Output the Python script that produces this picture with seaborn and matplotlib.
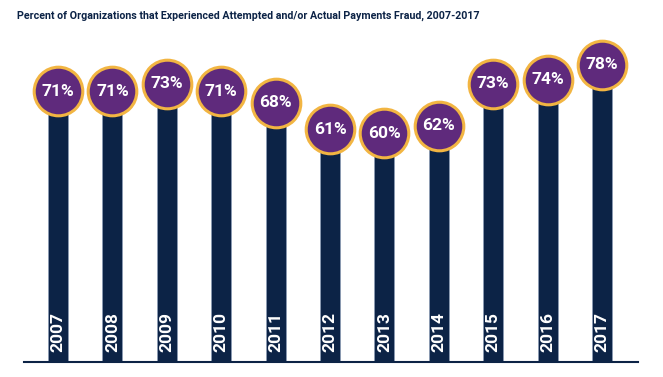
import matplotlib
matplotlib.use("Agg")
import matplotlib.pyplot as plt
import seaborn as sns
import pandas as pd

# --- DATA ---
years = ["2007", "2008", "2009", "2010", "2011", "2012",
         "2013", "2014", "2015", "2016", "2017"]
pct = [71, 71, 73, 71, 68, 61, 60, 62, 73, 74, 78]

TITLE = ("Percent of Organizations that Experienced Attempted and/or "
         "Actual Payments Fraud, 2007-2017")

# --- COLOURS ---
NAVY = "#0c2346"
PURPLE = "#5f2a7c"
GOLD = "#f2b542"

sns.set_style("white")
plt.rcParams["font.family"] = ["Roboto", "DejaVu Sans"]

df = pd.DataFrame({"year": years, "pct": pct})

fig = plt.figure(figsize=(6.63, 3.77), dpi=100)
ax = fig.add_axes([0.0362, 0.0398, 0.926, 0.8806])

sns.barplot(data=df, x="year", y="pct", color=NAVY, saturation=1,
            width=0.37, edgecolor="#8c9bb3", linewidth=0.6, ax=ax)

ax.set_xlim(-0.625, 10.66)
ax.set_ylim(0, 87.1)

# circles + labels sit on top of each bar
for p, v, yr in zip(ax.patches, pct, years):
    cx = p.get_x() + p.get_width() / 2
    top = p.get_height()
    ax.scatter(cx, top, s=35 ** 2, color=PURPLE, edgecolor=GOLD,
               linewidth=2.2, zorder=3, clip_on=False)
    ax.text(cx, top, f"{v}%", color="white", fontsize=12.5,
            fontweight="bold", ha="center", va="center", zorder=4)
    ax.text(cx, 2.6, yr, color="white", fontsize=12.5, fontweight="bold",
            rotation=90, ha="center", va="bottom", zorder=4)

ax.set_xlabel("")
ax.set_ylabel("")
ax.set_xticks([])
ax.set_yticks([])
for side in ["top", "left", "right"]:
    ax.spines[side].set_visible(False)
ax.spines["bottom"].set_color(NAVY)
ax.spines["bottom"].set_linewidth(1.5)

fig.text(17 / 663, 1 - 16 / 377, TITLE, color=NAVY, fontsize=7.7,
         fontweight="bold", ha="left", va="center")

fig.savefig("out.png", dpi=100)
